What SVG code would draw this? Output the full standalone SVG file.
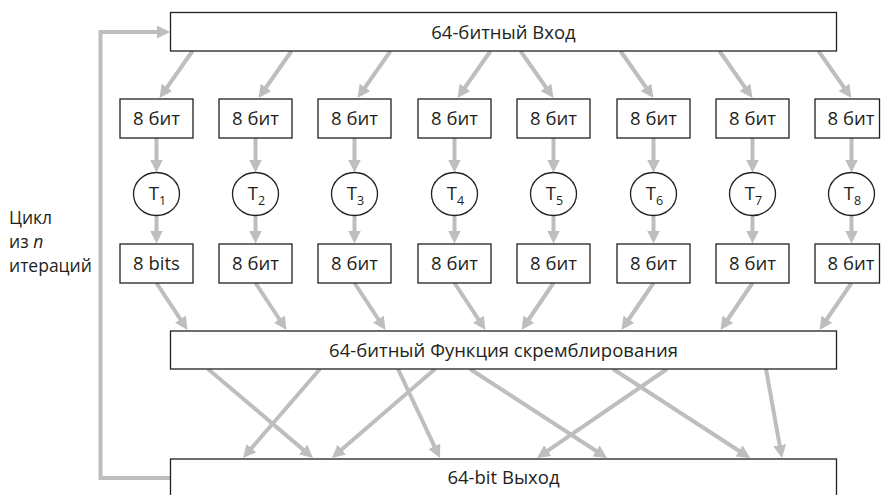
<svg xmlns="http://www.w3.org/2000/svg" width="881" height="495" viewBox="0 0 881 495">
<style>
.box{fill:#fff;stroke:#231f20;stroke-width:1.3}
.t{font-family:"Open Sans","Noto Sans","Liberation Sans",sans-serif;font-size:18.5px;fill:#231f20;text-anchor:middle}
.lbl{font-family:"Open Sans","Noto Sans","Liberation Sans",sans-serif;font-size:17.5px;fill:#231f20}
.c{stroke:#bcbec0;stroke-width:4;fill:none;marker-end:url(#ah)}
</style>
<defs>
<marker id="ah" markerUnits="userSpaceOnUse" viewBox="0 0 13 13" markerWidth="13" markerHeight="13" refX="7" refY="6.5" orient="auto">
<path d="M0,0 L13,6.5 L0,13 z" fill="#bcbec0"/>
</marker>
</defs>
<rect width="881" height="495" fill="#fff"/>
<g id="connectors">
<path class="c" d="M171,478 H100.5 V32 H164"/>
<line class="c" x1="192.5" y1="51" x2="163" y2="93.1"/>
<line class="c" x1="291.5" y1="51" x2="262" y2="93.1"/>
<line class="c" x1="390.5" y1="51" x2="361" y2="93.1"/>
<line class="c" x1="490.5" y1="51" x2="461" y2="93.1"/>
<line class="c" x1="520.5" y1="51" x2="550" y2="93.1"/>
<line class="c" x1="620.5" y1="51" x2="650" y2="93.1"/>
<line class="c" x1="719.5" y1="51" x2="749" y2="93.1"/>
<line class="c" x1="818.5" y1="51" x2="848" y2="93.1"/>
<line class="c" x1="156.5" y1="138" x2="156.5" y2="166.5"/>
<line class="c" x1="255.5" y1="138" x2="255.5" y2="166.5"/>
<line class="c" x1="354.5" y1="138" x2="354.5" y2="166.5"/>
<line class="c" x1="454.5" y1="138" x2="454.5" y2="166.5"/>
<line class="c" x1="553.5" y1="138" x2="553.5" y2="166.5"/>
<line class="c" x1="653.5" y1="138" x2="653.5" y2="166.5"/>
<line class="c" x1="752.5" y1="138" x2="752.5" y2="166.5"/>
<line class="c" x1="851.5" y1="138" x2="851.5" y2="166.5"/>
<line class="c" x1="156.5" y1="215" x2="156.5" y2="237.5"/>
<line class="c" x1="255.5" y1="215" x2="255.5" y2="237.5"/>
<line class="c" x1="354.5" y1="215" x2="354.5" y2="237.5"/>
<line class="c" x1="454.5" y1="215" x2="454.5" y2="237.5"/>
<line class="c" x1="553.5" y1="215" x2="553.5" y2="237.5"/>
<line class="c" x1="653.5" y1="215" x2="653.5" y2="237.5"/>
<line class="c" x1="752.5" y1="215" x2="752.5" y2="237.5"/>
<line class="c" x1="851.5" y1="215" x2="851.5" y2="237.5"/>
<line class="c" x1="156.5" y1="283" x2="184.2" y2="325"/>
<line class="c" x1="255.5" y1="283" x2="283.2" y2="325"/>
<line class="c" x1="354.5" y1="283" x2="382.2" y2="325"/>
<line class="c" x1="454.5" y1="283" x2="482.2" y2="325"/>
<line class="c" x1="553.5" y1="283" x2="524.9" y2="325"/>
<line class="c" x1="653.5" y1="283" x2="624.9" y2="325"/>
<line class="c" x1="752.5" y1="283" x2="723.9" y2="325"/>
<line class="c" x1="851.5" y1="283" x2="822.9" y2="325"/>
<line class="c" x1="208" y1="369" x2="308.4" y2="454.1"/>
<line class="c" x1="320" y1="369" x2="246.9" y2="453.5"/>
<line class="c" x1="398" y1="369" x2="437.4" y2="452.6"/>
<line class="c" x1="435" y1="369" x2="336.5" y2="454.1"/>
<line class="c" x1="470" y1="369" x2="602" y2="454.7"/>
<line class="c" x1="667" y1="369" x2="542" y2="454.6"/>
<line class="c" x1="613" y1="369" x2="745" y2="454.7"/>
<line class="c" x1="766" y1="369" x2="780.9" y2="452.1"/>
</g>
<g id="input"><rect class="box" x="170.5" y="12.5" width="666" height="38.5"/><text class="t" x="503.5" y="39">64-битный Вход</text></g>
<g id="in1"><rect class="box" x="120" y="99" width="73" height="39"/><text class="t" x="156.5" y="125">8 бит</text></g>
<g id="in2"><rect class="box" x="219" y="99" width="73" height="39"/><text class="t" x="255.5" y="125">8 бит</text></g>
<g id="in3"><rect class="box" x="318" y="99" width="73" height="39"/><text class="t" x="354.5" y="125">8 бит</text></g>
<g id="in4"><rect class="box" x="418" y="99" width="73" height="39"/><text class="t" x="454.5" y="125">8 бит</text></g>
<g id="in5"><rect class="box" x="517" y="99" width="73" height="39"/><text class="t" x="553.5" y="125">8 бит</text></g>
<g id="in6"><rect class="box" x="617" y="99" width="73" height="39"/><text class="t" x="653.5" y="125">8 бит</text></g>
<g id="in7"><rect class="box" x="716" y="99" width="73" height="39"/><text class="t" x="752.5" y="125">8 бит</text></g>
<g id="in8"><rect class="box" x="815" y="99" width="64.5" height="39"/><text class="t" x="851" y="125">8 бит</text></g>
<g id="T1"><ellipse class="box" cx="156.5" cy="194" rx="23" ry="21.5"/><text class="t" x="157.5" y="200">T<tspan font-size="12.5" dy="5">1</tspan></text></g>
<g id="T2"><ellipse class="box" cx="255.5" cy="194" rx="23" ry="21.5"/><text class="t" x="256.5" y="200">T<tspan font-size="12.5" dy="5">2</tspan></text></g>
<g id="T3"><ellipse class="box" cx="354.5" cy="194" rx="23" ry="21.5"/><text class="t" x="355.5" y="200">T<tspan font-size="12.5" dy="5">3</tspan></text></g>
<g id="T4"><ellipse class="box" cx="454.5" cy="194" rx="23" ry="21.5"/><text class="t" x="455.5" y="200">T<tspan font-size="12.5" dy="5">4</tspan></text></g>
<g id="T5"><ellipse class="box" cx="553.5" cy="194" rx="23" ry="21.5"/><text class="t" x="554.5" y="200">T<tspan font-size="12.5" dy="5">5</tspan></text></g>
<g id="T6"><ellipse class="box" cx="653.5" cy="194" rx="23" ry="21.5"/><text class="t" x="654.5" y="200">T<tspan font-size="12.5" dy="5">6</tspan></text></g>
<g id="T7"><ellipse class="box" cx="752.5" cy="194" rx="23" ry="21.5"/><text class="t" x="753.5" y="200">T<tspan font-size="12.5" dy="5">7</tspan></text></g>
<g id="T8"><ellipse class="box" cx="851.5" cy="194" rx="23" ry="21.5"/><text class="t" x="852.5" y="200">T<tspan font-size="12.5" dy="5">8</tspan></text></g>
<g id="out1"><rect class="box" x="120" y="244" width="73" height="39"/><text class="t" x="156.5" y="270">8 bits</text></g>
<g id="out2"><rect class="box" x="219" y="244" width="73" height="39"/><text class="t" x="255.5" y="270">8 бит</text></g>
<g id="out3"><rect class="box" x="318" y="244" width="73" height="39"/><text class="t" x="354.5" y="270">8 бит</text></g>
<g id="out4"><rect class="box" x="418" y="244" width="73" height="39"/><text class="t" x="454.5" y="270">8 бит</text></g>
<g id="out5"><rect class="box" x="517" y="244" width="73" height="39"/><text class="t" x="553.5" y="270">8 бит</text></g>
<g id="out6"><rect class="box" x="617" y="244" width="73" height="39"/><text class="t" x="653.5" y="270">8 бит</text></g>
<g id="out7"><rect class="box" x="716" y="244" width="73" height="39"/><text class="t" x="752.5" y="270">8 бит</text></g>
<g id="out8"><rect class="box" x="815" y="244" width="64.5" height="39"/><text class="t" x="851" y="270">8 бит</text></g>
<g id="scramble"><rect class="box" x="170.5" y="331" width="666" height="38"/><text class="t" x="503.5" y="356.5">64-битный Функция скремблирования</text></g>
<g id="output"><rect class="box" x="170.5" y="459" width="666" height="50"/><text class="t" x="503.5" y="484">64-bit Выход</text></g>
<g id="loop-label"><text class="lbl" x="9" y="224"><tspan x="9" y="224">Цикл</tspan><tspan x="9" y="248">из <tspan font-style="italic">n</tspan></tspan><tspan x="9" y="272">итераций</tspan></text></g>
</svg>
